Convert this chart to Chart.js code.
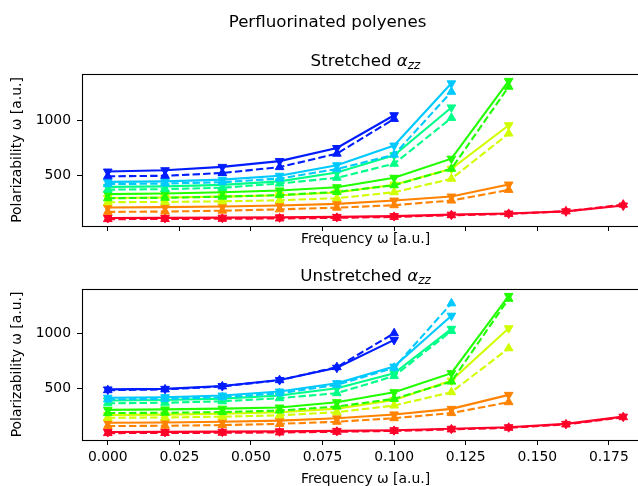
<!DOCTYPE html>
<html>
<head>
<meta charset="utf-8">
<script src="https://cdn.jsdelivr.net/npm/chart.js@4/dist/chart.umd.min.js"></script>
<style>
  html, body { margin: 0; padding: 0; background: #fff; overflow: hidden; }
  #wrap { position: relative; width: 638px; height: 486px; overflow: hidden; }
  canvas { position: absolute; left: 0; }
</style>
</head>
<body>
<div id="wrap">
  <canvas id="chart-top" width="660" height="251" style="top:0"></canvas>
  <canvas id="chart-bot" width="660" height="235" style="top:251px"></canvas>
</div>
<script>
// gist_rainbow, one colour per molecule (shortest -> longest chain)
const COLORS = ["#ff0029", "#ff8300", "#cfff00", "#22ff00", "#00ff89", "#00c9ff", "#001cff"];

const FREQ = [0, 0.02, 0.04, 0.06, 0.08, 0.10, 0.12, 0.14, 0.16, 0.18];
const X_TICKS = [0, 0.025, 0.05, 0.075, 0.1, 0.125, 0.15, 0.175];
const Y_TICKS = [500, 1000];

// Stretched: solid line / 'v' markers
const stretchedSolid = [
  [120, 121, 123, 126, 130, 137, 150, 160, 180, 232],
  [215, 218, 224, 232, 247, 277, 313, 421],
  [300, 304, 312, 325, 350, 420, 563, 955],
  [335, 340, 352, 368, 397, 482, 654, 1354],
  [400, 405, 418, 450, 530, 685, 1115],
  [445, 450, 465, 500, 595, 772, 1332],
  [538, 550, 580, 632, 750, 1045],
];
// Stretched: dashed line / '^' markers
const stretchedDashed = [
  [110, 111, 113, 116, 121, 130, 145, 157, 180, 240],
  [175, 178, 186, 198, 213, 235, 277, 373],
  [262, 265, 270, 280, 298, 352, 473, 880],
  [298, 302, 312, 326, 355, 415, 563, 1301],
  [375, 380, 392, 430, 482, 608, 1021],
  [425, 430, 442, 475, 560, 690, 1256],
  [495, 500, 525, 578, 699, 1012],
];
// Unstretched: solid line / 'v' markers
const unstretchedSolid = [
  [112, 113, 115, 118, 122, 128, 141, 155, 185, 250],
  [195, 198, 204, 214, 235, 270, 320, 446],
  [265, 268, 276, 290, 322, 400, 575, 1045],
  [311, 315, 322, 332, 380, 470, 641, 1336],
  [395, 400, 412, 440, 506, 640, 1040],
  [420, 425, 440, 476, 551, 700, 1158],
  [495, 500, 525, 580, 690, 940],
];
// Unstretched: dashed line / '^' markers
const unstretchedDashed = [
  [102, 103, 105, 108, 114, 122, 135, 150, 180, 245],
  [165, 168, 174, 185, 204, 236, 282, 380],
  [240, 243, 250, 262, 290, 350, 470, 865],
  [282, 285, 291, 305, 341, 410, 565, 1310],
  [370, 375, 388, 416, 461, 615, 1020],
  [405, 410, 425, 460, 535, 690, 1269],
  [488, 495, 522, 578, 695, 1000],
];

Chart.defaults.font.family = "'DejaVu Sans', sans-serif";
Chart.defaults.color = "#000";

const TICK_FONT = { size: 13.9 };
const TITLE_FONT = 16.67;

const framePlugin = {
  id: "frame",
  afterDraw(chart, args, opts) {
    const { ctx, chartArea: a } = chart;
    ctx.save();
    ctx.strokeStyle = "#000";
    ctx.lineWidth = 1.1;
    const l = Math.round(a.left) + 0.5, t = Math.round(a.top) + 0.5;
    ctx.strokeRect(l, t, Math.round(a.right) - Math.round(a.left), Math.round(a.bottom) - Math.round(a.top));

    ctx.fillStyle = "#000";
    ctx.textBaseline = "alphabetic";
    if (opts.suptitle) {
      ctx.font = TITLE_FONT + "px 'DejaVu Sans'";
      ctx.textAlign = "center";
      ctx.fillText(opts.suptitle, 327.5, 26.5);
    }
    // subplot title with alpha_zz
    ctx.textAlign = "left";
    const fMain = TITLE_FONT + "px 'DejaVu Sans'";
    const fIt = "italic " + TITLE_FONT + "px 'DejaVu Sans'";
    const fSub = "italic 12px 'DejaVu Sans'";
    ctx.font = fMain; const w1 = ctx.measureText(opts.title).width;
    ctx.font = fIt; const w2 = ctx.measureText("\u03b1").width;
    ctx.font = fSub; const w3 = ctx.measureText("zz").width;
    const cx = (a.left + a.right) / 2;
    let x = cx - (w1 + w2 + w3) / 2;
    const base = a.top - 8.3;
    ctx.font = fMain; ctx.fillText(opts.title, x, base); x += w1;
    ctx.font = fIt; ctx.fillText("\u03b1", x, base); x += w2;
    ctx.font = fSub; ctx.fillText("zz", x, base + 3);
    ctx.restore();
  }
};

function makeDatasets(solid, dashed) {
  const out = [];
  let idx = 0;
  COLORS.forEach((c, i) => {
    [[solid[i], [], 180], [dashed[i], [7.4, 3.2], 0]].forEach(([vals, dash, rot]) => {
      out.push({
        data: vals.map((v, k) => ({ x: FREQ[k], y: v })),
        borderColor: c,
        backgroundColor: c,
        borderWidth: 2.1,
        borderDash: dash,
        pointStyle: "triangle",
        pointRotation: rot,
        pointRadius: 5,
        pointBorderWidth: 1,
        pointBorderColor: c,
        pointBackgroundColor: c,
        tension: 0,
        fill: false,
        order: 100 - idx,
      });
      idx++;
    });
  });
  return out;
}

function makeChart(id, solid, dashed, cfg) {
  return new Chart(document.getElementById(id), {
    type: "line",
    data: { datasets: makeDatasets(solid, dashed) },
    plugins: [framePlugin],
    options: {
      responsive: false,
      animation: false,
      devicePixelRatio: 1,
      layout: { padding: { top: cfg.padTop, right: 11, left: 0, bottom: 0 } },
      plugins: {
        legend: { display: false },
        tooltip: { enabled: false },
        frame: { title: cfg.title, suptitle: cfg.suptitle },
      },
      scales: {
        x: {
          type: "linear",
          min: -0.009,
          max: 0.189,
          afterBuildTicks: s => { s.ticks = X_TICKS.map(v => ({ value: v })); },
          afterFit: s => { s.height = cfg.xHeight; },
          ticks: {
            font: TICK_FONT, color: "#000", padding: 4, maxRotation: 0, autoSkip: false,
            callback: v => (cfg.xLabels ? v.toFixed(3) : ""),
          },
          grid: { display: true, drawOnChartArea: false, drawTicks: true, tickLength: 5, color: "#000", lineWidth: 1 },
          border: { display: false },
          title: { display: true, text: "Frequency \u03c9 [a.u.]", font: { size: 13.9 }, color: "#000", padding: { top: 0, bottom: cfg.xTitlePad } },
        },
        y: {
          min: cfg.yMin,
          max: cfg.yMax,
          afterBuildTicks: s => { s.ticks = Y_TICKS.map(v => ({ value: v })); },
          afterFit: s => { s.width = 82; },
          ticks: { font: TICK_FONT, color: "#000", padding: 6, callback: v => String(v) },
          grid: { display: true, drawOnChartArea: false, drawTicks: true, tickLength: 5, color: "#000", lineWidth: 1 },
          border: { display: false },
          title: { display: true, text: "Polarizability \u03c9 [a.u.]", font: { size: 13.9 }, color: "#000", padding: { top: 9, bottom: 0 } },
        },
      },
    },
  });
}

makeChart("chart-top", stretchedSolid, stretchedDashed, {
  title: "Stretched ", suptitle: "Perfluorinated polyenes",
  padTop: 74, xHeight: 25, xLabels: false, xTitlePad: 3, yMin: 48, yMax: 1416,
});
makeChart("chart-bot", unstretchedSolid, unstretchedDashed, {
  title: "Unstretched ", suptitle: null,
  padTop: 38, xHeight: 46, xLabels: true, xTitlePad: -1.5, yMin: 40, yMax: 1398,
});
</script>
</body>
</html>
